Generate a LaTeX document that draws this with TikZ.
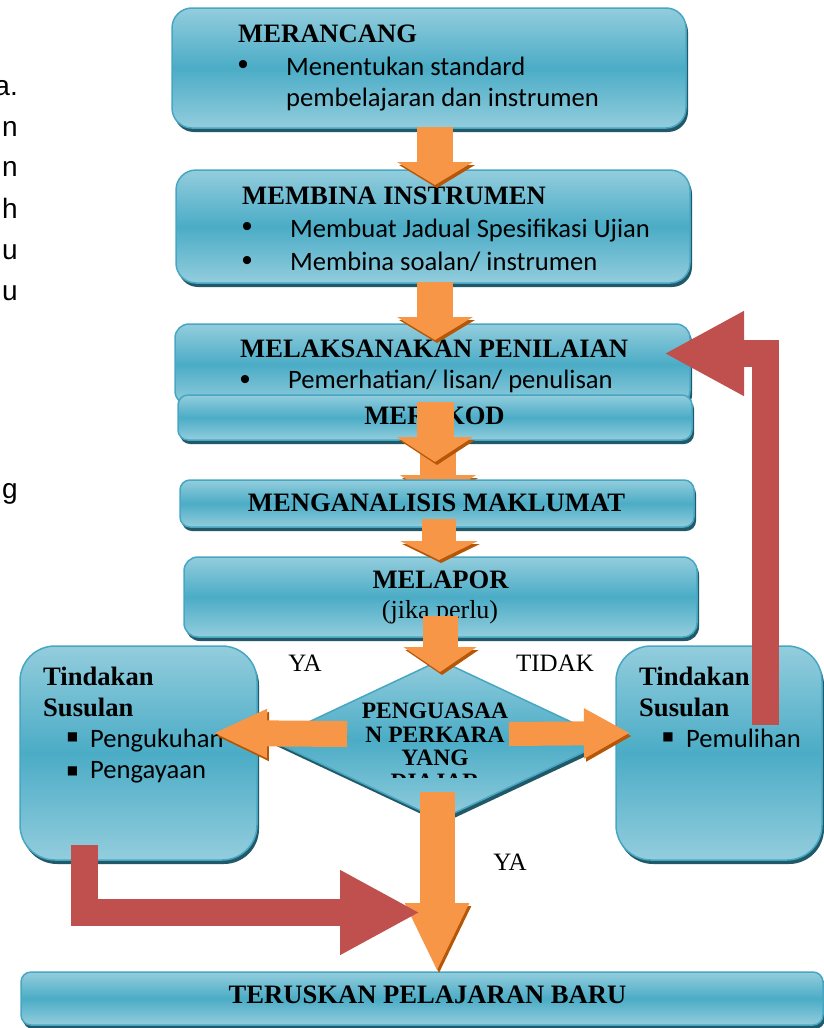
\documentclass[tikz,border=0pt]{standalone}
\usepackage{fontspec}
\setmainfont{Liberation Serif}
\newfontfamily\calfont{Carlito}
\newfontfamily\arialfont{Liberation Sans}
\newfontfamily\dejafont{DejaVu Sans}
\usetikzlibrary{arrows.meta}
\usetikzlibrary{shapes.geometric}
\usetikzlibrary{shadows}
\usetikzlibrary{calc}

\definecolor{teallight}{HTML}{93CDDD}
\definecolor{tealmid}{HTML}{4BACC6}
\definecolor{tealedge}{HTML}{47A6C2}
\definecolor{tealdark}{HTML}{215968}
\definecolor{orangemain}{HTML}{F79646}
\definecolor{orangedark}{HTML}{B65708}
\definecolor{redarrow}{HTML}{C0504D}

\tikzset{
  stage/.style={draw=tealedge, line width=1.5pt, rounded corners=#1, top color=teallight, bottom color=teallight, middle color=tealmid, drop shadow={shadow xshift=2pt, shadow yshift=-4pt, fill=tealdark, opacity=1}, inner sep=0pt},
  stage/.default=20pt,
  headtext/.style={font=\bfseries\fontsize{26.6}{30}\selectfont, inner sep=0pt, anchor=base west},
  bodytext/.style={font=\calfont\fontsize{26.6}{30}\selectfont, inner sep=0pt, anchor=base west},
  dot/.style={font=\arialfont\fontsize{30}{30}\selectfont, inner sep=0pt},
  sq/.style={font=\dejafont\fontsize{12}{12}\selectfont, inner sep=0pt},
  answer/.style={font=\fontsize{25}{28}\selectfont, inner sep=0pt, anchor=base},
  frag/.style={font=\arialfont\fontsize{28}{30}\selectfont, inner sep=0pt, anchor=base east},
  flow/.style n args={3}{draw=orangemain, line width=#1, -{Triangle[width=#2,length=#3]}, preaction={draw=orangedark, transform canvas={shift={(2pt,-3pt)}}}},
  redflow/.style={draw=redarrow, line width=27pt, -{Triangle[width=79pt,length=80pt]}}
}

\begin{document}
\begin{tikzpicture}[x=1pt,y=-1pt]
  \useasboundingbox (0,0) rectangle (824,1028);

  % cut off letters of the page text on the left
  \foreach \ch/\yy [count=\i] in {a./95, n/136, n/176, h/218, u/259, u/300, g/498} {
    \node[frag] (frag\i) at (18,\yy) {\ch};
  }

  % planning
  \node[stage, minimum width=514pt, minimum height=120pt] (merancang) at (429,68) {};
  \node[headtext] (merancangT) at (238,42) {MERANCANG};
  \node[dot] (b1) at (243,67) {•};
  \node[bodytext] (merancangA) at (286,75) {Menentukan standard};
  \node[bodytext] (merancangB) at (286,106) {pembelajaran dan instrumen};

  % building the instrument
  \node[stage, minimum width=514pt, minimum height=113pt] (membina) at (433,226.5) {};
  \node[headtext] (membinaT) at (242,204) {MEMBINA INSTRUMEN};
  \node[dot] (b2) at (247,229) {•};
  \node[dot] (b3) at (247,263) {•};
  \node[bodytext] (membinaA) at (290,237) {Membuat Jadual Spesifikasi Ujian};
  \node[bodytext] (membinaB) at (290,270) {Membina soalan/ instrumen};

  \coordinate (a1s) at (435,127);
  \coordinate (a1e) at (435,185);
  \draw[flow={36pt}{75pt}{23pt}] (a1s) -- (a1e);

  % assessing
  \node[stage=14pt, minimum width=515pt, minimum height=81pt] (melaksana) at (432.5,364.5) {};
  \node[headtext] (melaksanaT) at (240,357) {MELAKSANAKAN PENILAIAN};
  \node[dot] (b4) at (245,382) {•};
  \node[bodytext] (melaksanaA) at (288,388) {Pemerhatian/ lisan/ penulisan};

  \coordinate (a2s) at (435,282);
  \coordinate (a2e) at (435,340);
  \draw[flow={36pt}{75pt}{23pt}] (a2s) -- (a2e);

  \coordinate (a4s) at (438,445);
  \coordinate (a4e) at (438,500);
  \draw[flow={36pt}{75pt}{25pt}] (a4s) -- (a4e);

  % coding
  \node[stage=10pt, minimum width=514pt, minimum height=45pt] (merekod) at (435,417.5) {};
  \node[headtext, anchor=base] (merekodT) at (434.5,424) {MEREKOD};

  \coordinate (a3s) at (435,402);
  \coordinate (a3e) at (435,462);
  \draw[flow={37pt}{75pt}{25pt}] (a3s) -- (a3e);

  % analysing
  \node[stage=10pt, minimum width=514pt, minimum height=47pt] (analisis) at (437,503.5) {};
  \node[headtext, anchor=base] (analisisT) at (436.5,511) {MENGANALISIS MAKLUMAT};

  % reporting
  \node[stage=14pt, minimum width=513pt, minimum height=80pt] (melapor) at (440.5,597) {};
  \node[headtext, anchor=base] (melaporT) at (440.5,588) {MELAPOR};
  \node[answer, font=\fontsize{26}{28}\selectfont] (melaporA) at (440,618) {(jika perlu)};

  \coordinate (a5s) at (439,519);
  \coordinate (a5e) at (439,560);
  \draw[flow={34pt}{77pt}{19pt}] (a5s) -- (a5e);

  % decision
  \node[stage=0pt, shape=diamond, minimum width=340pt, minimum height=160pt] (kuasai) at (440,740) {};
  \begin{scope}
    \clip (260,690) rectangle (620,777);
    \foreach \ln/\yy [count=\i] in {PENGUASAA/718, N PERKARA/742, YANG/765, DIAJAR/789} {
      \node[headtext, anchor=base, font=\bfseries\fontsize{23.5}{24}\selectfont] (kuasai\i) at (435,\yy) {\ln};
    }
  \end{scope}

  \coordinate (a6s) at (440,616);
  \coordinate (a6e) at (440,672);
  \draw[flow={35pt}{72pt}{25pt}] (a6s) -- (a6e);

  % follow-up actions
  \node[stage=35pt, minimum width=237pt, minimum height=214pt] (susulanL) at (138.5,753) {};
  \node[headtext] (susulanL1) at (43,685) {Tindakan};
  \node[headtext] (susulanL2) at (43,716) {Susulan};
  \node[sq] (sq1) at (72.5,737.5) {■};
  \node[sq] (sq2) at (72.5,771) {■};
  \node[bodytext] (kukuh) at (90,747) {Pengukuhan};
  \node[bodytext] (kaya) at (90,778) {Pengayaan};

  \node[stage=35pt, minimum width=206pt, minimum height=214pt] (susulanR) at (719,753) {};
  \node[headtext] (susulanR1) at (639,685) {Tindakan};
  \node[headtext] (susulanR2) at (639,716) {Susulan};
  \node[sq] (sq3) at (668,737) {■};
  \node[bodytext] (pulih) at (686,747) {Pemulihan};

  \coordinate (kiriS) at (347,734);
  \coordinate (kiriE) at (213,733);
  \draw[flow={26pt}{45pt}{54pt}] (kiriS) -- (kiriE);
  \coordinate (kananS) at (509,734);
  \coordinate (kananE) at (630,733);
  \draw[flow={24pt}{47pt}{46pt}] (kananS) -- (kananE);

  % next lesson
  \node[stage=10pt, minimum width=802pt, minimum height=53pt] (teruskan) at (422,998.5) {};
  \node[headtext, anchor=base] (teruskanT) at (427.5,1003) {TERUSKAN PELAJARAN BARU};

  \coordinate (bawahS) at (437,792);
  \coordinate (bawahE) at (437,972);
  \draw[flow={35pt}{59pt}{69pt}] (bawahS) -- (bawahE);

  % loops back
  \coordinate (ulangS) at (765.5,725);
  \coordinate (ulangE) at (664,353.5);
  \draw[redflow] (ulangS) |- (ulangE);
  \coordinate (terusS) at (84,845);
  \coordinate (terusE) at (420,912.5);
  \draw[redflow] (terusS) |- (terusE);

  % answers
  \node[answer] (ya1) at (305,671) {YA};
  \node[answer] (tidak) at (555,671) {TIDAK};
  \node[answer] (ya2) at (510,870) {YA};
\end{tikzpicture}
\end{document}
